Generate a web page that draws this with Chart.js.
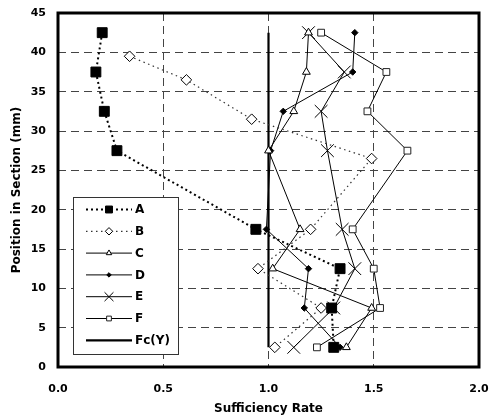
<!DOCTYPE html>
<html>
<head>
<meta charset="utf-8">
<script src="https://cdn.jsdelivr.net/npm/chart.js@4/dist/chart.umd.min.js"></script>
<style>
  body { margin: 0; background: #fff; }
  canvas { display: block; }
</style>
</head>
<body>
<canvas id="chart" width="489" height="416"></canvas>
<script>
// ---- values ----
const depths  = [42.5, 37.5, 32.5, 27.5, 17.5, 12.5, 7.5, 2.5];
const depthsB = [39.5, 36.5, 31.5, 26.5, 17.5, 12.5, 7.5, 2.5];

const rateA = [0.21, 0.18, 0.22, 0.28, 0.94, 1.34, 1.30, 1.31];
const rateB = [0.34, 0.61, 0.92, 1.49, 1.20, 0.95, 1.25, 1.03];
const rateC = [1.19, 1.18, 1.12, 1.00, 1.15, 1.02, 1.49, 1.37];
const rateD = [1.41, 1.40, 1.07, 1.01, 0.99, 1.19, 1.17, 1.34];
const rateE = [1.19, 1.36, 1.25, 1.28, 1.35, 1.41, 1.31, 1.12];
const rateF = [1.25, 1.56, 1.47, 1.66, 1.40, 1.50, 1.53, 1.23];

const fcRate  = [1.0, 1.0];
const fcDepth = [2.5, 42.5];

const xTickLabels = ['0.0', '0.5', '1.0', '1.5', '2.0'];
const yTickLabels = ['0', '5', '10', '15', '20', '25', '30', '35', '40', '45'];

const FONT = 'DejaVu Sans';

// ---- helpers ----
const pts = (xs, ys) => xs.map((x, i) => ({ x, y: ys[i] }));

function series(label, xs, ys, opts) {
  return Object.assign({
    label,
    data: pts(xs, ys),
    showLine: true,
    borderColor: '#000',
    borderWidth: 1,
    pointBorderColor: '#000',
    pointBorderWidth: 1,
    pointBackgroundColor: '#fff',
    pointHoverRadius: 0
  }, opts);
}

// no extra room for the edge tick labels, the plot box is fixed
function noEdgePad(s) {
  s.paddingLeft = 0; s.paddingRight = 0;
  s.paddingTop = 0;  s.paddingBottom = 0;
}

// frame round the plot area
const frame = {
  id: 'frame',
  afterDatasetsDraw(chart) {
    const { ctx, chartArea: a } = chart;
    ctx.save();
    ctx.strokeStyle = '#000';
    ctx.lineWidth = 3;
    ctx.setLineDash([]);
    ctx.strokeRect(a.left, a.top, a.right - a.left, a.bottom - a.top);
    ctx.restore();
  }
};

// boxed legend sitting in the lower left of the plot
const boxLegend = {
  id: 'boxLegend',
  afterDraw(chart) {
    const ctx = chart.ctx;
    const x0 = 73, y0 = 197, w = 105, h = 157;
    ctx.save();
    ctx.fillStyle = '#fff';
    ctx.fillRect(x0, y0, w, h);
    ctx.strokeStyle = '#333';
    ctx.lineWidth = 1;
    ctx.strokeRect(x0 + 0.5, y0 + 0.5, w, h);

    chart.data.datasets.forEach((ds, i) => {
      const y = y0 + 12.5 + i * 21.8;
      ctx.setLineDash(ds.borderDash || []);
      ctx.lineWidth = ds.borderWidth;
      ctx.strokeStyle = ds.borderColor;
      ctx.beginPath();
      ctx.moveTo(86, y);
      ctx.lineTo(132, y);
      ctx.stroke();
      if (ds.pointRadius) {
        ctx.setLineDash([]);
        ctx.fillStyle = ds.pointBackgroundColor;
        ctx.strokeStyle = ds.pointBorderColor;
        ctx.lineWidth = ds.pointBorderWidth;
        Chart.helpers.drawPoint(ctx, {
          pointStyle: ds.pointStyle,
          rotation: 0,
          radius: ds.pointRadius * 0.7,
          borderWidth: ds.pointBorderWidth
        }, 109, y);
      }
      ctx.fillStyle = '#000';
      ctx.font = `bold 12px "${FONT}"`;
      ctx.textAlign = 'left';
      ctx.textBaseline = 'middle';
      ctx.fillText(ds.label, 135, y + 0.5);
    });
    ctx.restore();
  }
};

new Chart(document.getElementById('chart'), {
  type: 'scatter',
  data: {
    datasets: [
      series('A', rateA, depths, {
        borderWidth: 2, borderDash: [2, 3],
        pointStyle: 'rect', pointRadius: 7, pointBackgroundColor: '#000'
      }),
      series('B', rateB, depthsB, {
        borderWidth: 1.2, borderDash: [1.5, 3.5], borderColor: '#333',
        pointStyle: 'rectRot', pointRadius: 5.3
      }),
      series('C', rateC, depths, { pointStyle: 'triangle', pointRadius: 4.5 }),
      series('D', rateD, depths, {
        pointStyle: 'rectRot', pointRadius: 3.2, pointBackgroundColor: '#000'
      }),
      series('E', rateE, depths, { pointStyle: 'crossRot', pointRadius: 9 }),
      series('F', rateF, depths, {
        pointStyle: 'rect', pointRadius: 4.8, pointBorderColor: '#222'
      }),
      series('Fc(Y)', fcRate, fcDepth, { borderWidth: 2.2, pointRadius: 0 })
    ]
  },
  options: {
    responsive: false,
    animation: false,
    events: [],
    layout: { padding: { top: 13, right: 8, left: 0, bottom: 0 } },
    plugins: {
      legend: { display: false },
      tooltip: { enabled: false }
    },
    scales: {
      x: {
        type: 'linear',
        min: 0, max: 2,
        afterFit: s => { s.height = 49; noEdgePad(s); },
        ticks: {
          stepSize: 0.5,
          padding: 16,
          color: '#000',
          font: { family: FONT, size: 11, weight: 'bold' },
          callback: (v, i) => xTickLabels[i]
        },
        grid: { color: '#444', lineWidth: 1, drawTicks: false },
        border: { display: false, dash: [8, 5] },
        title: {
          display: true,
          text: 'Sufficiency Rate',
          color: '#000',
          padding: { top: 0, bottom: 0 },
          font: { family: FONT, size: 12, weight: 'bold' }
        }
      },
      y: {
        type: 'linear',
        min: 0, max: 45,
        afterFit: s => { s.width = 58; noEdgePad(s); },
        ticks: {
          stepSize: 5,
          padding: 12,
          color: '#000',
          font: { family: FONT, size: 11, weight: 'bold' },
          callback: (v, i) => yTickLabels[i]
        },
        grid: { color: '#444', lineWidth: 1, drawTicks: false },
        border: { display: false, dash: [8, 5] },
        title: {
          display: true,
          text: 'Position in Section (mm)',
          color: '#000',
          padding: { top: 10, bottom: 0 },
          font: { family: FONT, size: 12, weight: 'bold' }
        }
      }
    }
  },
  plugins: [frame, boxLegend]
});
</script>
</body>
</html>
